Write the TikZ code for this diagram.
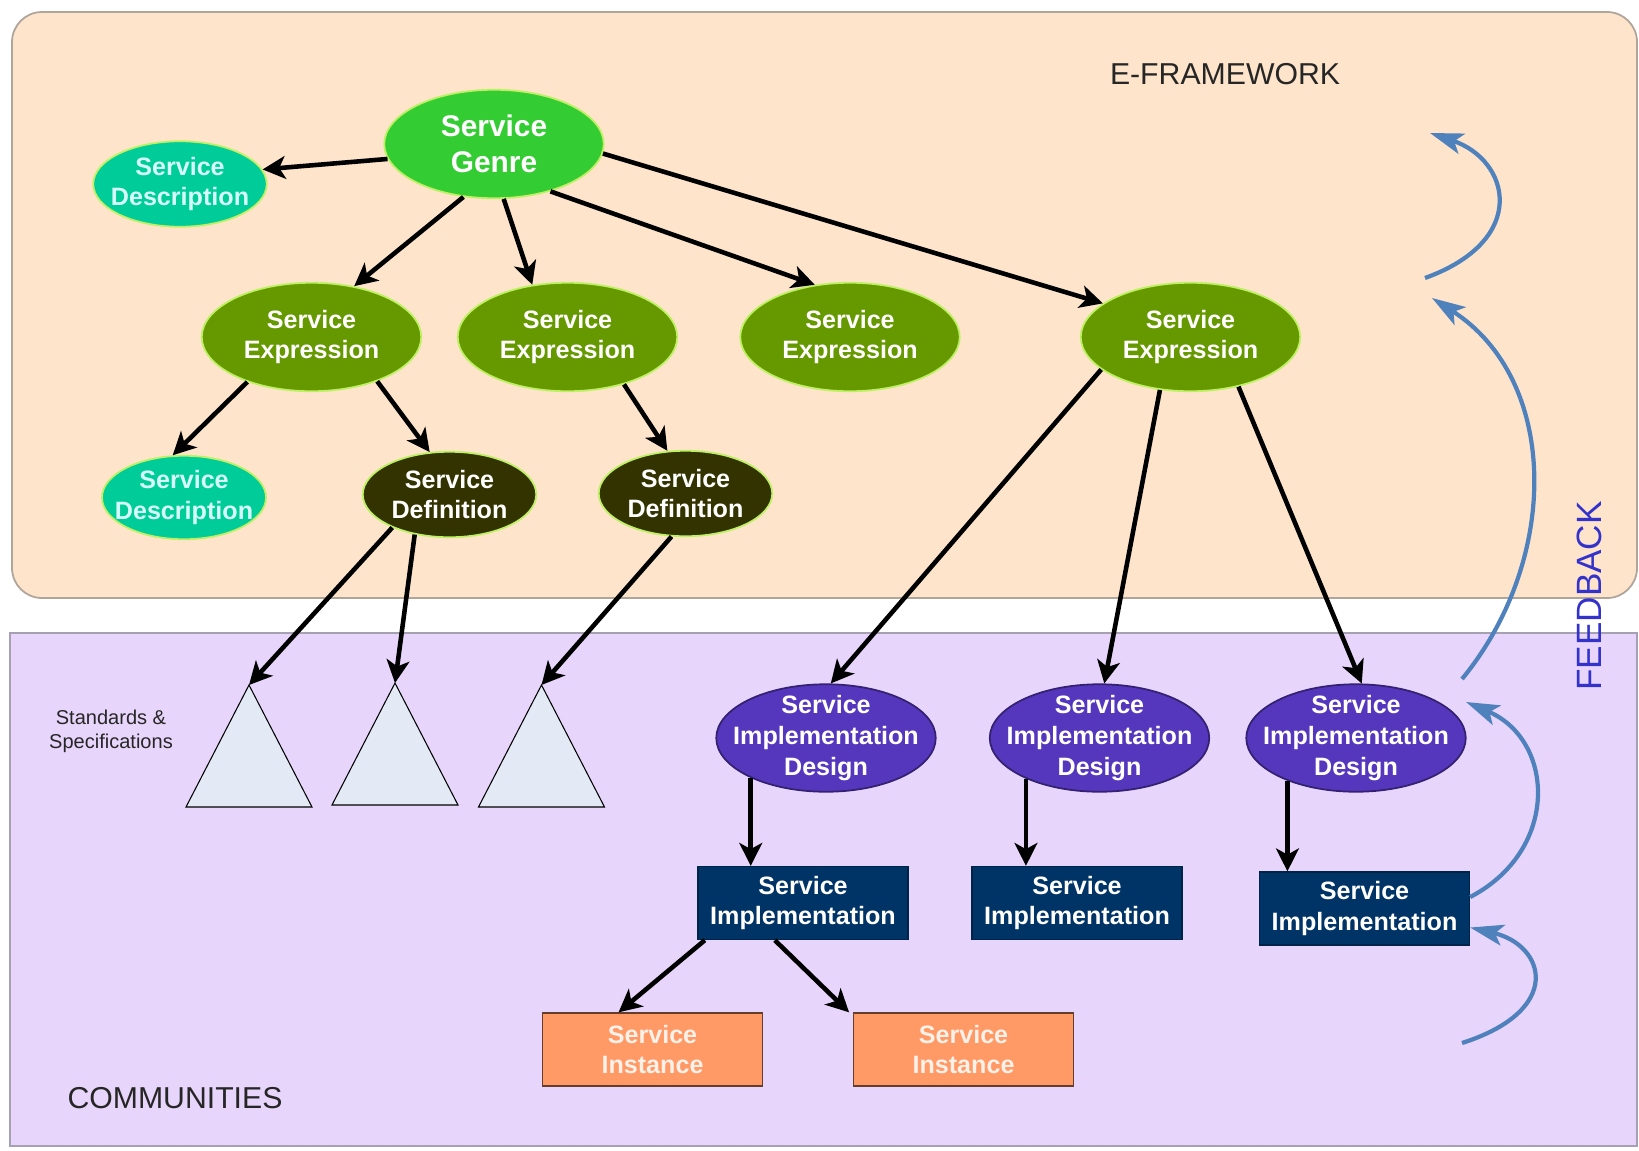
\documentclass[tikz,border=0pt]{standalone}
\usepackage{fontspec}
\setmainfont{Liberation Sans}
\usetikzlibrary{shapes.geometric,arrows.meta,calc}

\definecolor{fwback}{RGB}{253,228,203}
\definecolor{fwline}{RGB}{175,165,155}
\definecolor{comback}{RGB}{232,213,251}
\definecolor{comline}{RGB}{165,160,178}
\definecolor{genrefill}{RGB}{51,204,51}
\definecolor{descfill}{RGB}{0,204,153}
\definecolor{desctext}{RGB}{215,255,250}
\definecolor{exprfill}{RGB}{102,153,0}
\definecolor{deffill}{RGB}{51,51,0}
\definecolor{glow}{RGB}{190,240,100}
\definecolor{sidfill}{RGB}{85,55,190}
\definecolor{sifill}{RGB}{0,51,102}
\definecolor{instfill}{RGB}{255,153,102}
\definecolor{trifill}{RGB}{227,233,245}
\definecolor{fbblue}{RGB}{79,129,189}
\definecolor{fbtext}{RGB}{51,51,204}

\begin{document}
\begin{tikzpicture}[x=0.02cm, y=-0.02cm,
		svctxt/.style={font=\bfseries\fontsize{14.3}{17.5}\selectfont, align=center, text=white, inner sep=0pt},
		lbl/.style={label={[svctxt]center:#1}},
		desclbl/.style={label={[svctxt, text=desctext]center:#1}},
		oval/.style={ellipse, inner sep=0pt, line width=1pt},
		genre/.style={oval, fill=genrefill, draw=glow, minimum width=4.39cm, minimum height=2.17cm},
		descr/.style={oval, fill=descfill, draw=glow, minimum width=3.47cm, minimum height=1.71cm},
		expr/.style={oval, fill=exprfill, draw=glow, minimum width=4.39cm, minimum height=2.17cm},
		defin/.style={oval, fill=deffill, draw=glow, minimum width=3.47cm, minimum height=1.71cm},
		impldesign/.style={oval, fill=sidfill, draw=sidfill!60!black, minimum width=4.39cm, minimum height=2.15cm},
		impl/.style={svctxt, rectangle, fill=sifill, draw=sifill!70!black, line width=0.8pt, minimum width=4.2cm, minimum height=1.46cm},
		inst/.style={svctxt, rectangle, fill=instfill, draw=instfill!40!black, line width=0.8pt, minimum width=4.39cm, minimum height=1.46cm, text=white!85!instfill},
		tri/.style={fill=trifill, draw=black, line width=0.6pt},
		arr/.style={-{Stealth[length=13pt, width=13pt, inset=3.5pt]}, line width=2.6pt},
		fbarr/.style={fbblue, line width=2.4pt, -{Stealth[length=19pt, width=12pt, inset=4.5pt]}}]
		\useasboundingbox ( 0, 0 ) rectangle ( 1639, 1150 );

		% e-framework and communities
		\draw [fwline, fill=fwback, rounded corners=0.6cm, line width=1pt] ( 12, 12 ) rectangle ( 1637, 598 );
		\draw [comline, fill=comback, line width=1pt] ( 10, 633 ) rectangle ( 1637, 1146 );
		\node [text=black!85, font=\fontsize{17.2}{20}\selectfont] (fwname) at ( 1225, 74 ) {E-FRAMEWORK};
		\node [text=black!85, font=\fontsize{17.2}{20}\selectfont] (comname) at ( 175, 1098 ) {COMMUNITIES};
		\node [rotate=90, text=fbtext, font=\fontsize{20}{24}\selectfont] (fbname) at ( 1589, 596 ) {FEEDBACK};
		\node [align=center, text=black!85, font=\fontsize{11.4}{13.6}\selectfont] (stdname) at ( 111, 731 ) {Standards \&\\Specifications};

		% genre
		\node [genre, label={[svctxt, font=\bfseries\fontsize{17}{20.7}\selectfont]center:Service\\Genre}] (genre) at ( 494, 144 ) {};
		\node [descr, desclbl={Service\\Description}] (desc1) at ( 180, 184 ) {};

		% expressions
		\node [expr, lbl={Service\\Expression}] (se1) at ( 311.5, 337 ) {};
		\node [expr, lbl={Service\\Expression}] (se2) at ( 567.5, 337 ) {};
		\node [expr, lbl={Service\\Expression}] (se3) at ( 850, 337 ) {};
		\node [expr, lbl={Service\\Expression}] (se4) at ( 1190.5, 337 ) {};

		% descriptions and definitions
		\node [descr, minimum width=3.28cm, minimum height=1.67cm, desclbl={Service\\Description}] (desc2) at ( 184, 497.5 ) {};
		\node [defin, lbl={Service\\Definition}] (def1) at ( 449.5, 494.5 ) {};
		\node [defin, lbl={Service\\Definition}] (def2) at ( 685.5, 493.5 ) {};

		% standards & specifications
		\coordinate (std1) at ( 249, 685 );
		\coordinate (std2) at ( 395, 683 );
		\coordinate (std3) at ( 541.5, 685 );
		\draw [tri] (std1) -- ++( -63, 122 ) -- ++( 126, 0 ) -- cycle;
		\draw [tri] (std2) -- ++( -63, 122 ) -- ++( 126, 0 ) -- cycle;
		\draw [tri] (std3) -- ++( -63, 122 ) -- ++( 126, 0 ) -- cycle;

		% implementation designs
		\node [impldesign, lbl={Service\\Implementation\\Design}] (sid1) at ( 826, 738 ) {};
		\node [impldesign, lbl={Service\\Implementation\\Design}] (sid2) at ( 1099.5, 738 ) {};
		\node [impldesign, lbl={Service\\Implementation\\Design}] (sid3) at ( 1356, 738 ) {};

		% implementations
		\node [impl] (si1) at ( 803, 903 ) {Service\\Implementation};
		\node [impl] (si2) at ( 1077, 903 ) {Service\\Implementation};
		\node [impl] (si3) at ( 1364.5, 908.5 ) {Service\\Implementation};

		% instances
		\node [inst] (inst1) at ( 652.5, 1049.5 ) {Service\\Instance};
		\node [inst] (inst2) at ( 963.5, 1049.5 ) {Service\\Instance};

		% arrows
		\draw [arr] (genre.188) -- (desc1.10);
		\draw [arr] (genre.240) -- (se1.50);
		\draw [arr] (genre.280) -- (se2.124);
		\draw [arr] (genre.320) -- (se3.124);
		\draw [arr] (genre.355) -- (se4.159);
		\draw [arr] (se1.215) -- (desc2.105);
		\draw [arr] (se1.326) -- (def1.115);
		\draw [arr] (se2.320) -- (def2.113);
		\draw [arr] (def1.210) -- (std1);
		\draw [arr] (def1.229) -- (std2);
		\draw [arr] (def2.252) -- (std3);
		\draw [arr] (se4.200) -- (sid1.85);
		\draw [arr] (se4.240) -- (sid2.85);
		\draw [arr] (se4.314) -- (sid3.84);
		\draw [arr] (sid1.208) -- (sid1.208 |- si1.north);
		\draw [arr] (sid2.209) -- (sid2.209 |- si2.north);
		\draw [arr] (sid3.212) -- (sid3.212 |- si3.north);
		\draw [arr] ([xshift=0.15cm]si1.south west) -- ([xshift=1.53cm]inst1.north west);
		\draw [arr] ([xshift=1.55cm]si1.south west) -- ([xshift=-0.08cm]inst2.north west);

		% feedback
		\coordinate (fb1s) at ( 1425, 278 );
		\coordinate (fb1e) at ( 1430, 133 );
		\coordinate (fb2s) at ( 1462, 679 );
		\coordinate (fb2e) at ( 1432, 298 );
		\coordinate (fb3e) at ( 1466, 702 );
		\coordinate (fb4s) at ( 1462, 1043 );
		\draw [fbarr] (fb1s) .. controls ( 1530, 240 ) and ( 1510, 160 ) .. (fb1e);
		\draw [fbarr] (fb2s) .. controls ( 1560, 560 ) and ( 1560, 380 ) .. (fb2e);
		\draw [fbarr] ([yshift=0.23cm]si3.east) .. controls ( 1560, 850 ) and ( 1555, 740 ) .. (fb3e);
		\draw [fbarr] (fb4s) .. controls ( 1565, 1010 ) and ( 1545, 945 ) .. ([yshift=-0.38cm]si3.east);
	\end{tikzpicture}
\end{document}
